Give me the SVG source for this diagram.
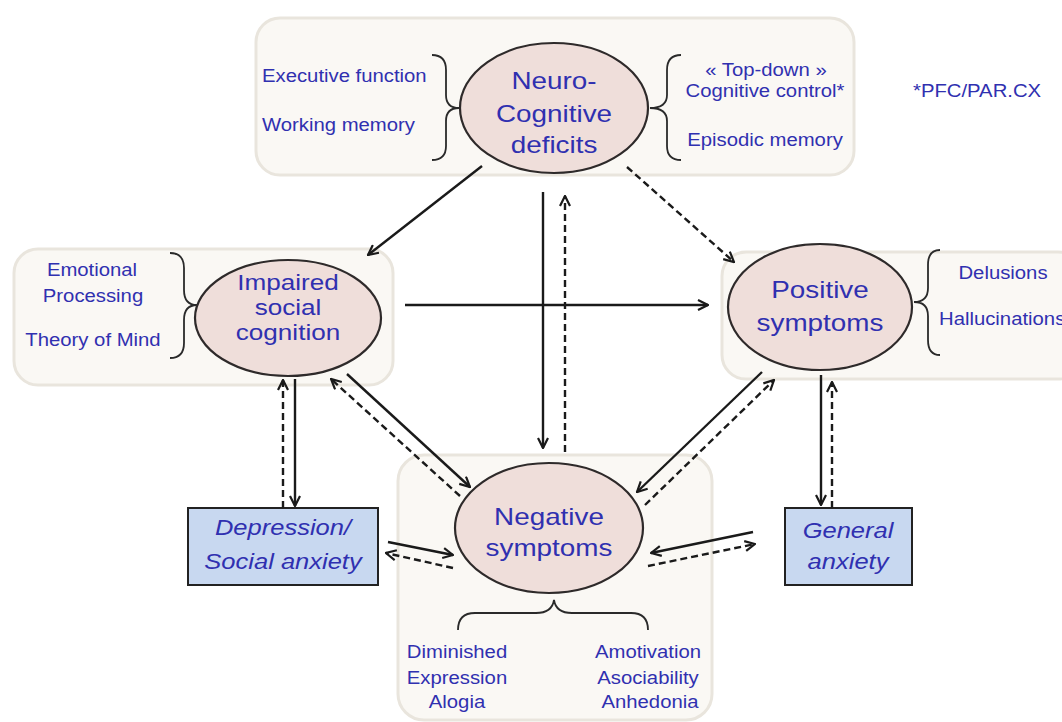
<svg xmlns="http://www.w3.org/2000/svg" width="1062" height="722" viewBox="0 0 1062 722">
<defs>
<marker id="ah" viewBox="0 0 12 12" refX="11" refY="6" markerWidth="12" markerHeight="12" markerUnits="userSpaceOnUse" orient="auto">
<path d="M1,1 L11,6 L1,11" fill="none" stroke="#1a1a1a" stroke-width="2.2"/>
</marker>
</defs>
<style>
.panel{fill:#faf8f4;stroke:#e9e5dd;stroke-width:3}
.ell{fill:#efdeda;stroke:#2e2a2a;stroke-width:2.2}
.box{fill:#c8d8f0;stroke:#222;stroke-width:2}
.brace{fill:none;stroke:#2a2a2a;stroke-width:1.8}
.t{font-family:"Liberation Sans",Arial,sans-serif;fill:#3030b0;text-anchor:middle}
.big{font-size:24px}
.mid{font-size:22.5px}
.sm{font-size:17.5px}
.it{font-size:22px;font-style:italic}
.sol{fill:none;stroke:#1a1a1a;stroke-width:2.4;marker-end:url(#ah)}
.dash{fill:none;stroke:#1a1a1a;stroke-width:2.4;stroke-dasharray:7 4;marker-end:url(#ah)}
</style>
<rect width="1062" height="722" fill="#ffffff"/>

<g id="neuro">
<rect class="panel" x="256" y="18" width="598" height="157" rx="24"/>
<path class="brace" d="M432,55 Q446,55 446,70 L446,95 Q446,108 459,108 Q446,108 446,121 L446,146 Q446,160 432,160"/>
<path class="brace" d="M681,55 Q667,55 667,70 L667,95 Q667,108 650,108 Q667,108 667,121 L667,146 Q667,160 681,160"/>
<ellipse class="ell" cx="554" cy="108" rx="94" ry="65"/>
<text class="t big" transform="translate(554,89) scale(1.16,1)">Neuro-</text>
<text class="t big" transform="translate(554,122) scale(1.16,1)">Cognitive</text>
<text class="t big" transform="translate(554,153) scale(1.16,1)">deficits</text>
<text class="t sm" style="text-anchor:start" transform="translate(262,82) scale(1.16,1)">Executive function</text>
<text class="t sm" style="text-anchor:start" transform="translate(262,131) scale(1.16,1)">Working memory</text>
<text class="t sm" transform="translate(766,76) scale(1.16,1)">« Top-down »</text>
<text class="t sm" transform="translate(765,97) scale(1.16,1)">Cognitive control*</text>
<text class="t sm" transform="translate(765,146) scale(1.16,1)">Episodic memory</text>
<text class="t sm" style="text-anchor:start" transform="translate(913,97) scale(1.16,1)">*PFC/PAR.CX</text>
</g>

<g id="impaired">
<rect class="panel" x="14" y="249" width="379" height="136" rx="24"/>
<path class="brace" d="M170,253 Q184,253 184,268 L184,290 Q184,305 197,305 Q184,305 184,320 L184,343 Q184,358 170,358"/>
<ellipse class="ell" cx="288" cy="318" rx="93" ry="58"/>
<text class="t mid" transform="translate(288,290) scale(1.16,1)">Impaired</text>
<text class="t mid" transform="translate(288,315) scale(1.16,1)">social</text>
<text class="t mid" transform="translate(288,340) scale(1.16,1)">cognition</text>
<text class="t sm" transform="translate(92,276) scale(1.16,1)">Emotional</text>
<text class="t sm" transform="translate(93,302) scale(1.16,1)">Processing</text>
<text class="t sm" transform="translate(93,346) scale(1.16,1)">Theory of Mind</text>
</g>

<g id="positive">
<rect class="panel" x="722" y="252" width="360" height="127" rx="24"/>
<path class="brace" d="M940,250 Q928,250 928,265 L928,288 Q928,302 914,302 Q928,302 928,316 L928,340 Q928,355 940,355"/>
<ellipse class="ell" cx="820" cy="307" rx="92" ry="63"/>
<text class="t big" transform="translate(820,298) scale(1.16,1)">Positive</text>
<text class="t big" transform="translate(820,331) scale(1.16,1)">symptoms</text>
<text class="t sm" transform="translate(1003,279) scale(1.16,1)">Delusions</text>
<text class="t sm" style="text-anchor:start" transform="translate(939,325) scale(1.16,1)">Hallucinations</text>
</g>

<g id="negative">
<rect class="panel" x="398" y="455" width="314" height="265" rx="26"/>
<path class="brace" d="M458,630 Q458,613 475,613 L536,613 Q552,613 554,600 Q556,613 572,613 L631,613 Q648,613 648,630"/>
<ellipse class="ell" cx="549" cy="528" rx="94" ry="65"/>
<text class="t big" transform="translate(549,525) scale(1.16,1)">Negative</text>
<text class="t big" transform="translate(549,556) scale(1.16,1)">symptoms</text>
<text class="t sm" transform="translate(457,658) scale(1.16,1)">Diminished</text>
<text class="t sm" transform="translate(457,684) scale(1.16,1)">Expression</text>
<text class="t sm" transform="translate(457,708) scale(1.16,1)">Alogia</text>
<text class="t sm" transform="translate(648,658) scale(1.16,1)">Amotivation</text>
<text class="t sm" transform="translate(648,684) scale(1.16,1)">Asociability</text>
<text class="t sm" transform="translate(650,708) scale(1.16,1)">Anhedonia</text>
</g>

<g id="depression">
<rect class="box" x="188" y="508" width="190" height="77"/>
<text class="t it" transform="translate(283,535) scale(1.16,1)">Depression/</text>
<text class="t it" transform="translate(283,569) scale(1.16,1)">Social anxiety</text>
</g>

<g id="general">
<rect class="box" x="785" y="508" width="127" height="77"/>
<text class="t it" transform="translate(848,538) scale(1.16,1)">General</text>
<text class="t it" transform="translate(848,569) scale(1.16,1)">anxiety</text>
</g>

<g id="connectors">
<path class="sol" d="M482,166 L368,255"/>
<path class="dash" d="M627,167 L734,262"/>
<path class="sol" d="M543,192 L543,448"/>
<path class="dash" d="M565,452 L565,196"/>
<path class="sol" d="M405,305 L708,305"/>
<path class="sol" d="M347,374 L470,487"/>
<path class="dash" d="M460,496 L331,379"/>
<path class="dash" d="M283,508 L283,380"/>
<path class="sol" d="M295,379 L295,506"/>
<path class="sol" d="M388,542 L453,555"/>
<path class="dash" d="M453,568 L386,553"/>
<path class="sol" d="M762,372 L637,492"/>
<path class="dash" d="M645,505 L774,380"/>
<path class="sol" d="M821,375 L821,505"/>
<path class="dash" d="M832,508 L832,382"/>
<path class="sol" d="M753,532 L651,553"/>
<path class="dash" d="M648,566 L755,544"/>
</g>
</svg>
